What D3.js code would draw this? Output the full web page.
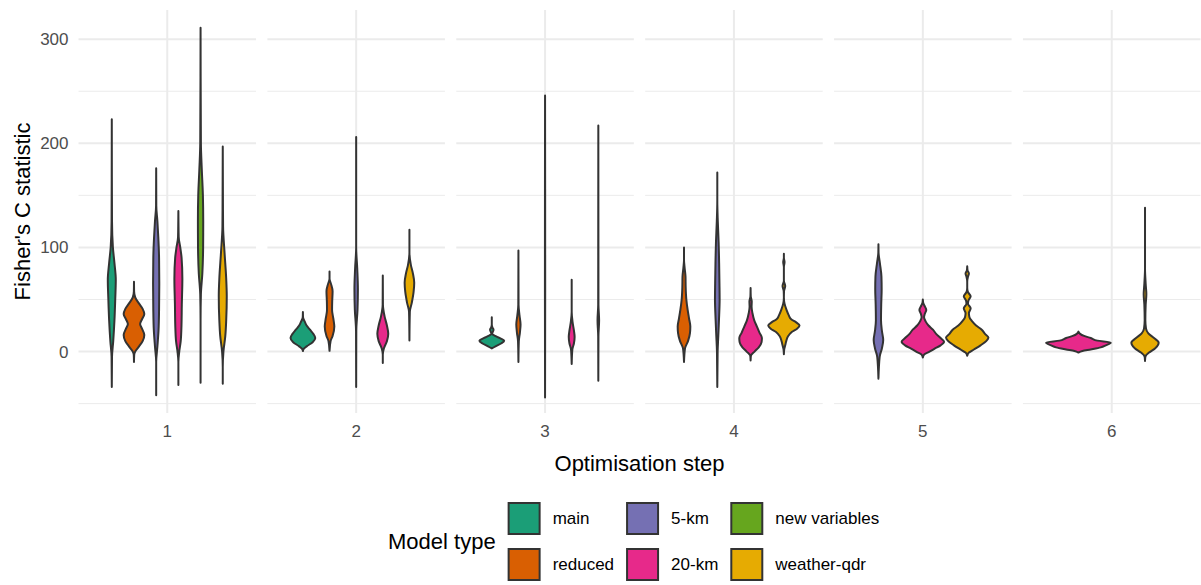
<!DOCTYPE html>
<html lang="en">
<head>
<meta charset="utf-8">
<title>Fisher's C statistic by optimisation step</title>
<script src="https://cdn.jsdelivr.net/npm/d3@7"></script>
<style>
  body { margin: 0; background: #fff; }
  text { font-family: "Liberation Sans", Arial, sans-serif; }
</style>
</head>
<body>
<script>
// ---- data ----
// each violin: model type + outline profile [statistic value, relative half-width]
var steps = ["1", "2", "3", "4", "5", "6"];
var modelTypes = ["main", "reduced", "5-km", "20-km", "new variables", "weather-qdr"];
var typeColors = ["#1B9E77", "#D95F02", "#7570B3", "#E7298A", "#66A61E", "#E6AB02"];

var step1 = [
  {type: "main", profile: [[-34,0],[-5,0.02],[10,0.13],[30,0.24],[50,0.31],[69,0.36],[85,0.24],[100,0.1],[125,0.02],[223,0]]},
  {type: "reduced", profile: [[-10,0],[-3,0.02],[0,0.11],[5,0.46],[10,0.78],[16,0.93],[22,0.72],[26.5,0.55],[31,0.72],[36,0.93],[41,0.78],[46,0.46],[52,0.11],[58,0.01],[67,0]]},
  {type: "5-km", profile: [[-42,0],[-10,0],[5,0.11],[20,0.21],[40,0.26],[65,0.28],[90,0.26],[110,0.19],[125,0.11],[140,0.01],[176,0]]},
  {type: "20-km", profile: [[-32,0],[-10,0],[0,0.08],[10,0.21],[25,0.28],[45,0.31],[70,0.36],[90,0.29],[100,0.17],[110,0.03],[135,0]]},
  {type: "new variables", profile: [[-30,0],[30,0],[55,0.03],[75,0.16],[100,0.23],[125,0.24],[150,0.21],[175,0.11],[200,0.03],[311,0]]},
  {type: "weather-qdr", profile: [[-31,0],[-15,0],[0,0.06],[15,0.23],[30,0.31],[53,0.36],[70,0.31],[95,0.16],[120,0.03],[197,0]]}
];
var step2 = [
  {type: "main", profile: [[0.5,0],[2,0.03],[5,0.28],[9,0.73],[13,0.93],[17,0.78],[21,0.53],[25,0.28],[29,0.13],[33,0.01],[38,0]]},
  {type: "reduced", profile: [[0.7,0],[10,0.08],[15,0.23],[24,0.36],[32,0.28],[40,0.19],[48,0.2],[58,0.23],[65,0.11],[70,0],[77,0]]},
  {type: "5-km", profile: [[-34,0],[20,0.01],[40,0.1],[60,0.13],[80,0.08],[100,0],[206,0]]},
  {type: "20-km", profile: [[-11,0],[-3,0],[3,0.08],[10,0.31],[17,0.41],[25,0.31],[34,0.13],[45,0.01],[73,0]]},
  {type: "weather-qdr", profile: [[10.6,0],[38,0.03],[47,0.18],[57,0.31],[66,0.36],[75,0.26],[83,0.11],[95,0],[117,0]]}
];
var step3 = [
  {type: "main", profile: [[3,0],[5,0.28],[8,0.73],[10.5,0.93],[12.5,0.68],[14.5,0.33],[17,0.03],[19,0.08],[21,0.13],[23,0.05],[26,0],[33,0]]},
  {type: "reduced", profile: [[-10,0],[10,0.03],[18,0.11],[26,0.16],[35,0.08],[45,0.01],[97,0]]},
  {type: "5-km", profile: [[-44,0],[60,0.01],[246,0]]},
  {type: "20-km", profile: [[-12,0],[2,0.05],[8,0.17],[14,0.22],[20,0.17],[28,0.07],[38,0],[69,0]]},
  {type: "weather-qdr", profile: [[-28,0],[15,0.01],[30,0.06],[45,0.01],[217,0]]}
];
var step4 = [
  {type: "reduced", profile: [[-10,0],[3,0.06],[10,0.24],[18,0.36],[24,0.38],[32,0.3],[40,0.22],[50,0.14],[62,0.1],[72,0.09],[80,0.04],[88,0],[100,0]]},
  {type: "5-km", profile: [[-34,0],[0,0.02],[15,0.06],[30,0.1],[50,0.14],[65,0.13],[85,0.11],[105,0.08],[125,0.03],[145,0],[172,0]]},
  {type: "20-km", profile: [[-8.6,0],[-4,0.02],[0,0.24],[4,0.49],[9,0.66],[13,0.68],[18,0.54],[24,0.38],[30,0.22],[37,0.11],[43,0.06],[48,0.07],[53,0.01],[61,0]]},
  {type: "weather-qdr", profile: [[-2.5,0],[2,0.02],[6,0.08],[10,0.14],[15,0.26],[19,0.49],[22,0.79],[25,0.94],[28,0.74],[31,0.44],[35,0.29],[40,0.16],[46,0.04],[52,0],[58,0.01],[63,0.08],[68,0],[81,0],[86,0.04],[90,0],[94,0]]}
];
var step5 = [
  {type: "5-km", profile: [[-26,0],[-5,0.055],[3,0.155],[11,0.215],[20,0.155],[30,0.115],[45,0.125],[60,0.145],[72,0.135],[85,0.065],[95,0.005],[103,0]]},
  {type: "20-km", profile: [[-5.7,0],[-3,0.055],[0,0.3],[3,0.55],[6,0.8],[9.5,0.955],[13,0.8],[17,0.6],[21,0.455],[25,0.255],[29,0.125],[33,0.055],[36,0.085],[40,0.155],[44,0.075],[47,0.015],[50,0]]},
  {type: "weather-qdr", profile: [[-4,0],[-1,0.075],[2,0.3],[6,0.6],[10,0.855],[13.5,0.955],[17,0.8],[21,0.655],[25,0.4],[29,0.225],[33,0.1],[37,0.075],[41.5,0.155],[46,0.035],[49,0.055],[53,0.155],[57,0.035],[61,0],[67,0],[72,0.035],[75,0.075],[78,0.015],[82,0]]}
];
var step6 = [
  {type: "20-km", profile: [[-1,0],[0.5,0.12],[2,0.37],[4,0.67],[6,0.82],[8.5,0.97],[10.5,0.57],[13,0.37],[15,0.17],[17,0.05],[19.2,0]]},
  {type: "weather-qdr", profile: [[-9,0],[-5,0.01],[-1,0.12],[3,0.3],[8.5,0.41],[13,0.27],[17.5,0.1],[22,0.03],[30,0.01],[45,0.02],[55,0.04],[65,0.02],[80,0],[138,0]]}
];
var violinsByStep = [step1, step2, step3, step4, step5, step6];

// ---- layout ----
var W = 1201, H = 585;
var plotTop = 10, plotBottom = 413, plotLeft = 78.5, plotRight = 1200.5;

var svg = d3.select("body").append("svg")
  .attr("width", W).attr("height", H);
svg.append("rect").attr("width", W).attr("height", H).attr("fill", "#fff");

var color = d3.scaleOrdinal().domain(modelTypes).range(typeColors);

var y = d3.scaleLinear().domain([-59, 328]).range([plotBottom, plotTop]);
var majorTicks = y.ticks(4);
var minorTicks = majorTicks.map(function (t) { return t - 50; })
  .concat([d3.max(majorTicks) + 50])
  .filter(function (t) { return t >= y.domain()[0] && t <= y.domain()[1]; });

var panel = d3.scaleBand().domain(steps).range([plotLeft, plotRight]).paddingInner(0.06);

var area = d3.area().curve(d3.curveMonotoneY);

steps.forEach(function (s, i) {
  var x0 = panel(s), bw = panel.bandwidth();
  var g = svg.append("g");

  // grid
  g.selectAll("line.minor").data(minorTicks).enter().append("line")
    .attr("x1", x0).attr("x2", x0 + bw)
    .attr("y1", function (d) { return y(d); }).attr("y2", function (d) { return y(d); })
    .attr("stroke", "#EBEBEB").attr("stroke-width", 1);
  g.selectAll("line.major").data(majorTicks).enter().append("line")
    .attr("x1", x0).attr("x2", x0 + bw)
    .attr("y1", function (d) { return y(d); }).attr("y2", function (d) { return y(d); })
    .attr("stroke", "#EBEBEB").attr("stroke-width", 2);

  var xs = d3.scaleBand().domain([s]).range([x0, x0 + bw]);
  var cx = xs(s) + xs.bandwidth() / 2;
  g.append("line")
    .attr("x1", cx).attr("x2", cx).attr("y1", plotTop).attr("y2", plotBottom)
    .attr("stroke", "#EBEBEB").attr("stroke-width", 2);

  // x tick label
  var xAxis = g.append("g").attr("transform", "translate(0," + plotBottom + ")")
    .call(d3.axisBottom(xs).tickSize(0).tickPadding(12));
  xAxis.select(".domain").remove();
  xAxis.selectAll("text")
    .style("font-family", "Liberation Sans, Arial, sans-serif")
    .style("font-size", "17px").attr("fill", "#4D4D4D");

  // dodged violins
  var vs = violinsByStep[i];
  var dodge = d3.scaleBand()
    .domain(vs.map(function (v) { return v.type; }))
    .range([cx - 0.375 * bw, cx + 0.375 * bw]);
  var hw = dodge.bandwidth() / 2;

  vs.forEach(function (v) {
    var c = dodge(v.type) + hw;
    var pts = v.profile.slice().sort(function (a, b) { return b[0] - a[0]; });
    area
      .y(function (d) { return y(d[0]); })
      .x0(function (d) { return c - d[1] * hw; })
      .x1(function (d) { return c + d[1] * hw; });
    g.append("path")
      .attr("d", area(pts))
      .attr("fill", color(v.type))
      .attr("stroke", "#333333")
      .attr("stroke-width", 2)
      .attr("stroke-linejoin", "round");
  });
});

// y axis labels
var yAxis = svg.append("g").attr("transform", "translate(" + plotLeft + ",0)")
  .call(d3.axisLeft(y).tickValues(majorTicks).tickSize(0).tickPadding(10));
yAxis.select(".domain").remove();
yAxis.selectAll("text")
  .style("font-family", "Liberation Sans, Arial, sans-serif")
  .style("font-size", "17px").attr("fill", "#4D4D4D");

// axis titles
svg.append("text")
  .attr("x", (plotLeft + plotRight) / 2).attr("y", 471)
  .attr("text-anchor", "middle").style("font-size", "22px").attr("fill", "#000")
  .text("Optimisation step");
svg.append("text")
  .attr("transform", "translate(29.5," + ((plotTop + plotBottom) / 2) + ") rotate(-90)")
  .attr("text-anchor", "middle").style("font-size", "22px").attr("fill", "#000")
  .text("Fisher's C statistic");

// legend (2 rows, filled by column)
var legend = svg.append("g");
var legX = 388, rowY = [502, 548], key = 33;
var title = legend.append("text").attr("x", legX).attr("y", 549)
  .style("font-size", "22px").attr("fill", "#000").text("Model type");
var cursor = legX + title.node().getComputedTextLength() + 12;
for (var col = 0; col < modelTypes.length / 2; col++) {
  var colW = 0;
  for (var r = 0; r < 2; r++) {
    var t = modelTypes[col * 2 + r];
    legend.append("rect")
      .attr("x", cursor + 1).attr("y", rowY[r] + 1)
      .attr("width", key - 2).attr("height", key - 2)
      .attr("fill", color(t)).attr("stroke", "#333333").attr("stroke-width", 2);
    var lbl = legend.append("text")
      .attr("x", cursor + key + 12).attr("y", rowY[r] + key / 2)
      .attr("dy", "0.35em").style("font-size", "17px").attr("fill", "#000")
      .text(t);
    colW = Math.max(colW, lbl.node().getComputedTextLength());
  }
  cursor += key + 12 + colW + 12;
}
</script>
</body>
</html>
